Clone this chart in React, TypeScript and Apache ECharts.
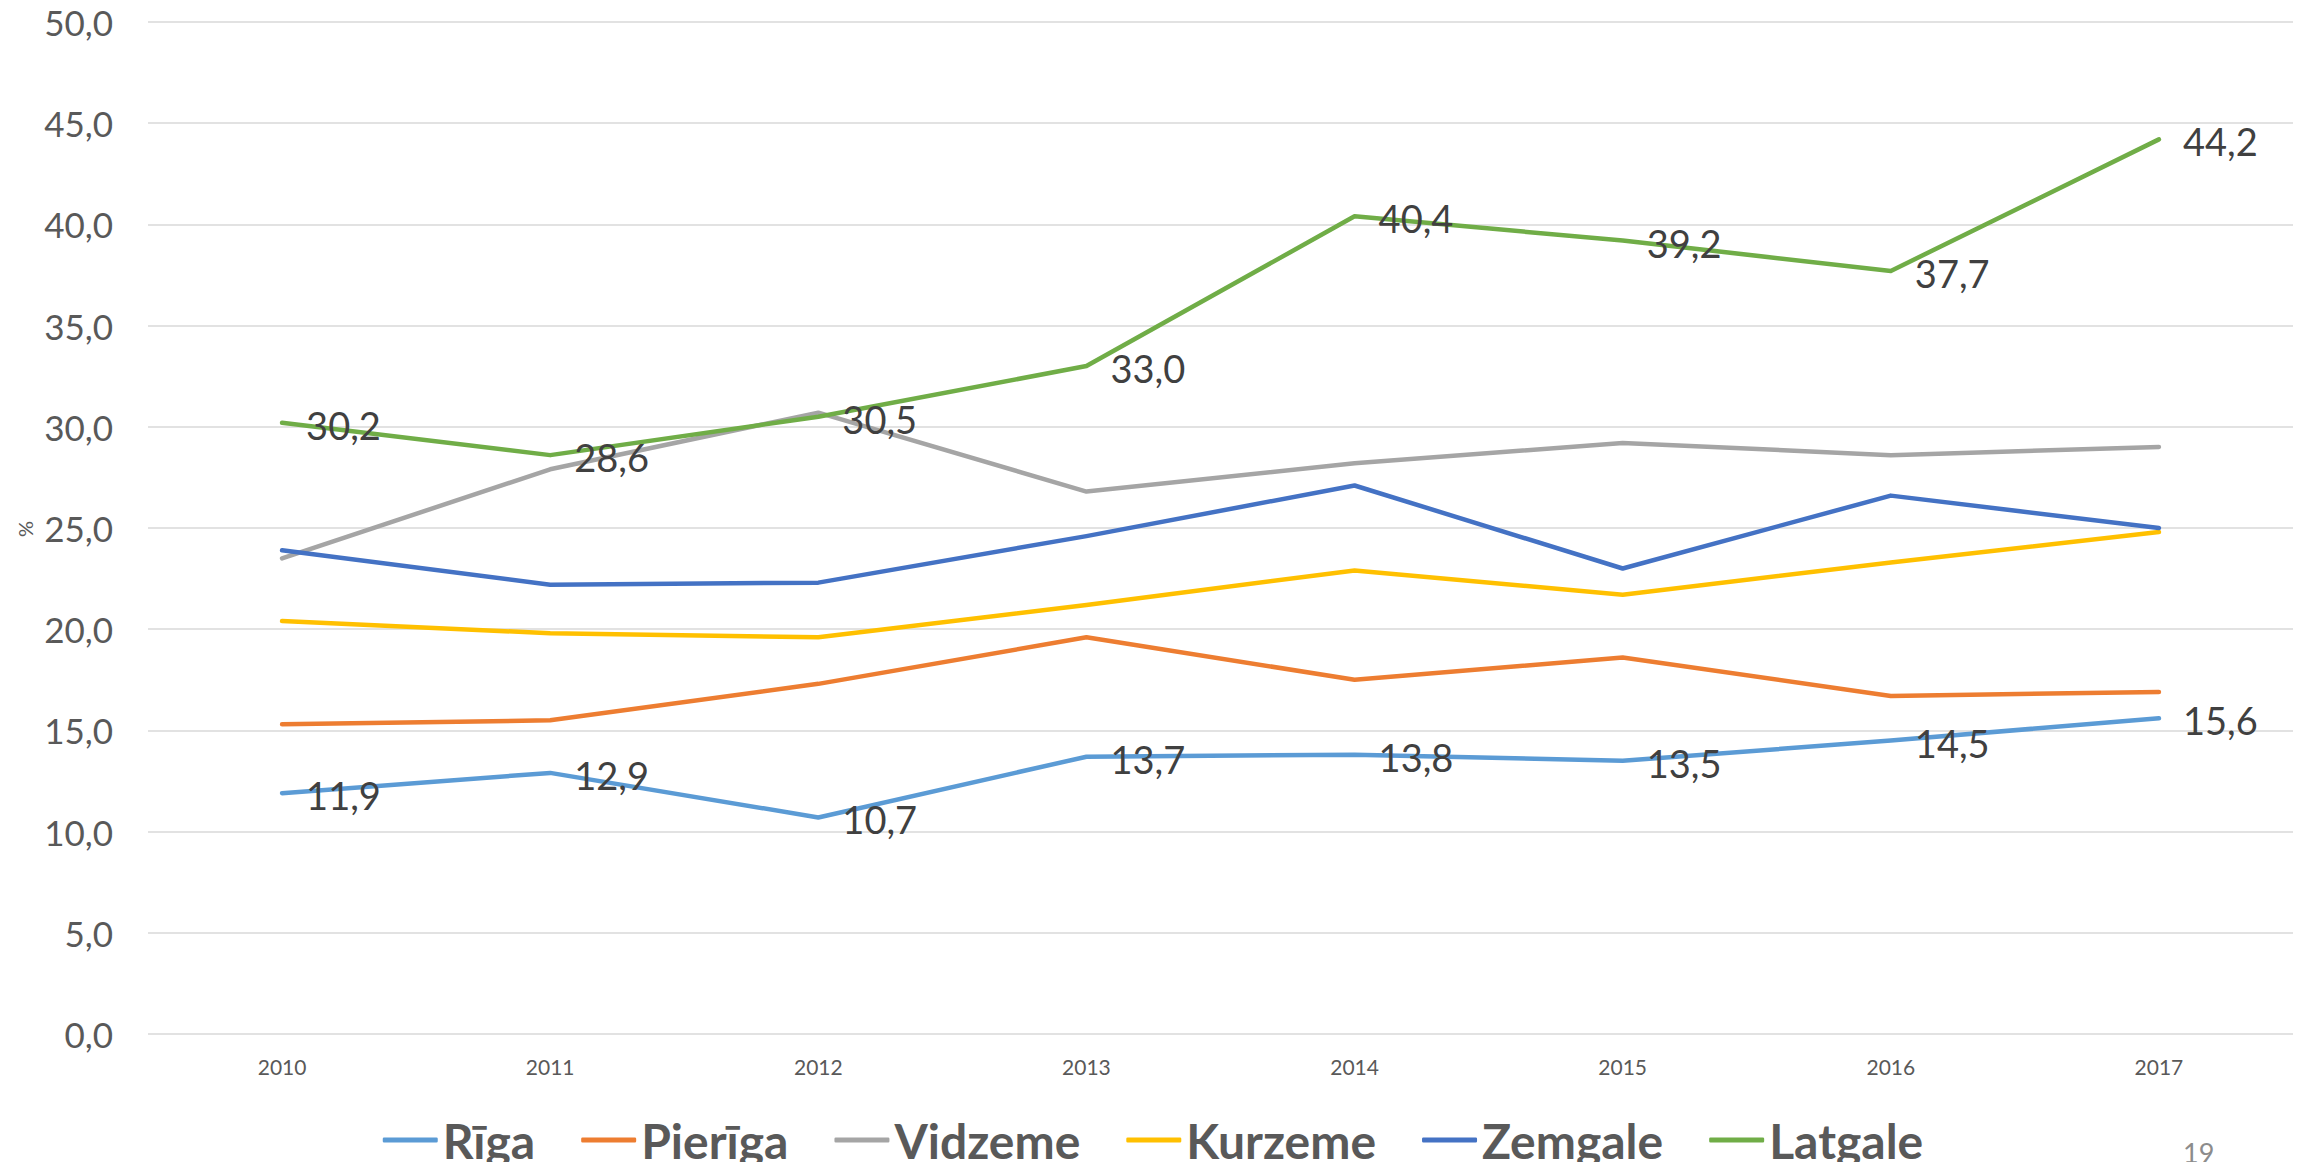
import React, { useEffect, useRef } from "react";
import * as echarts from "echarts";

const years = ["2010", "2011", "2012", "2013", "2014", "2015", "2016", "2017"];
const riga = [11.9, 12.9, 10.7, 13.7, 13.8, 13.5, 14.5, 15.6];
const pieriga = [15.3, 15.5, 17.3, 19.6, 17.5, 18.6, 16.7, 16.9];
const vidzeme = [23.5, 27.9, 30.7, 26.8, 28.2, 29.2, 28.6, 29.0];
const kurzeme = [20.4, 19.8, 19.6, 21.2, 22.9, 21.7, 23.3, 24.8];
const zemgale = [23.9, 22.2, 22.3, 24.6, 27.1, 23.0, 26.6, 25.0];
const latgale = [30.2, 28.6, 30.5, 33.0, 40.4, 39.2, 37.7, 44.2];

const seriesNames = ["Rīga", "Pierīga", "Vidzeme", "Kurzeme", "Zemgale", "Latgale"];
const seriesData = [riga, pieriga, vidzeme, kurzeme, zemgale, latgale];
const seriesColors = ["#5B9BD5", "#ED7D31", "#A5A5A5", "#FFC000", "#4472C4", "#70AD47"];
const labeledSeries = ["Rīga", "Latgale"];
const pageNumber = "19";
const yUnit = "%";

const FONT = "Lato, 'Noto Sans', sans-serif";
const fmt = (v: number) => v.toFixed(1).replace(".", ",");

export default function App() {
  const ref = useRef<HTMLDivElement>(null);
  useEffect(() => {
    if (!ref.current) return;
    const chart = echarts.init(ref.current, null, { renderer: "svg" });
    chart.setOption({
      animation: false,
      backgroundColor: "#ffffff",
      textStyle: { fontFamily: FONT },
      grid: { left: 148, right: 13, top: 22, bottom: 128, containLabel: false },
      xAxis: {
        type: "category",
        data: years,
        boundaryGap: true,
        axisLine: { show: false },
        axisTick: { show: false },
        axisLabel: { fontSize: 21, color: "#595959", margin: 22, fontFamily: FONT },
      },
      yAxis: {
        type: "value",
        min: 0,
        max: 50,
        interval: 5,
        axisLine: { show: false },
        axisTick: { show: false },
        axisLabel: {
          fontSize: 35,
          color: "#595959",
          margin: 35,
          fontFamily: FONT,
          formatter: (v: number) => fmt(v),
        },
        splitLine: { lineStyle: { color: "#D9D9D9", width: 1.5 } },
      },
      legend: {
        data: seriesNames,
        top: 1110,
        left: "center",
        icon: "roundRect",
        itemWidth: 55,
        itemHeight: 5,
        itemGap: 46,
        textStyle: {
          fontSize: 48,
          fontWeight: "bold",
          color: "#595959",
          fontFamily: FONT,
          lineHeight: 50,
        },
      },
      graphic: [
        {
          type: "text",
          x: 25,
          y: 529,
          rotation: Math.PI / 2,
          style: {
            text: yUnit,
            fontSize: 20,
            fill: "#595959",
            fontFamily: FONT,
            align: "center",
            verticalAlign: "middle",
          },
        },
        {
          type: "text",
          x: 2183,
          y: 1139,
          style: {
            text: pageNumber,
            fontSize: 27,
            fill: "#8C8C8C",
            fontFamily: FONT,
            align: "left",
            verticalAlign: "top",
          },
        },
      ],
      series: seriesNames.map((name, i) => ({
        name,
        type: "line",
        data: seriesData[i],
        symbol: "circle",
        symbolSize: 0.1,
        showSymbol: true,
        color: seriesColors[i],
        lineStyle: { width: 4.5, color: seriesColors[i], cap: "round", join: "round" },
        itemStyle: { color: seriesColors[i] },
        label: {
          show: labeledSeries.includes(name),
          position: "right",
          distance: 24,
          offset: [0, 2],
          fontSize: 38,
          color: "#404040",
          fontFamily: FONT,
          formatter: (p: any) => fmt(p.value),
        },
        emphasis: { disabled: true },
      })),
    });
    return () => chart.dispose();
  }, []);
  return (
    <div
      ref={ref}
      style={{ position: "fixed", left: 0, top: 0, width: 2306, height: 1162, background: "#fff" }}
    />
  );
}
